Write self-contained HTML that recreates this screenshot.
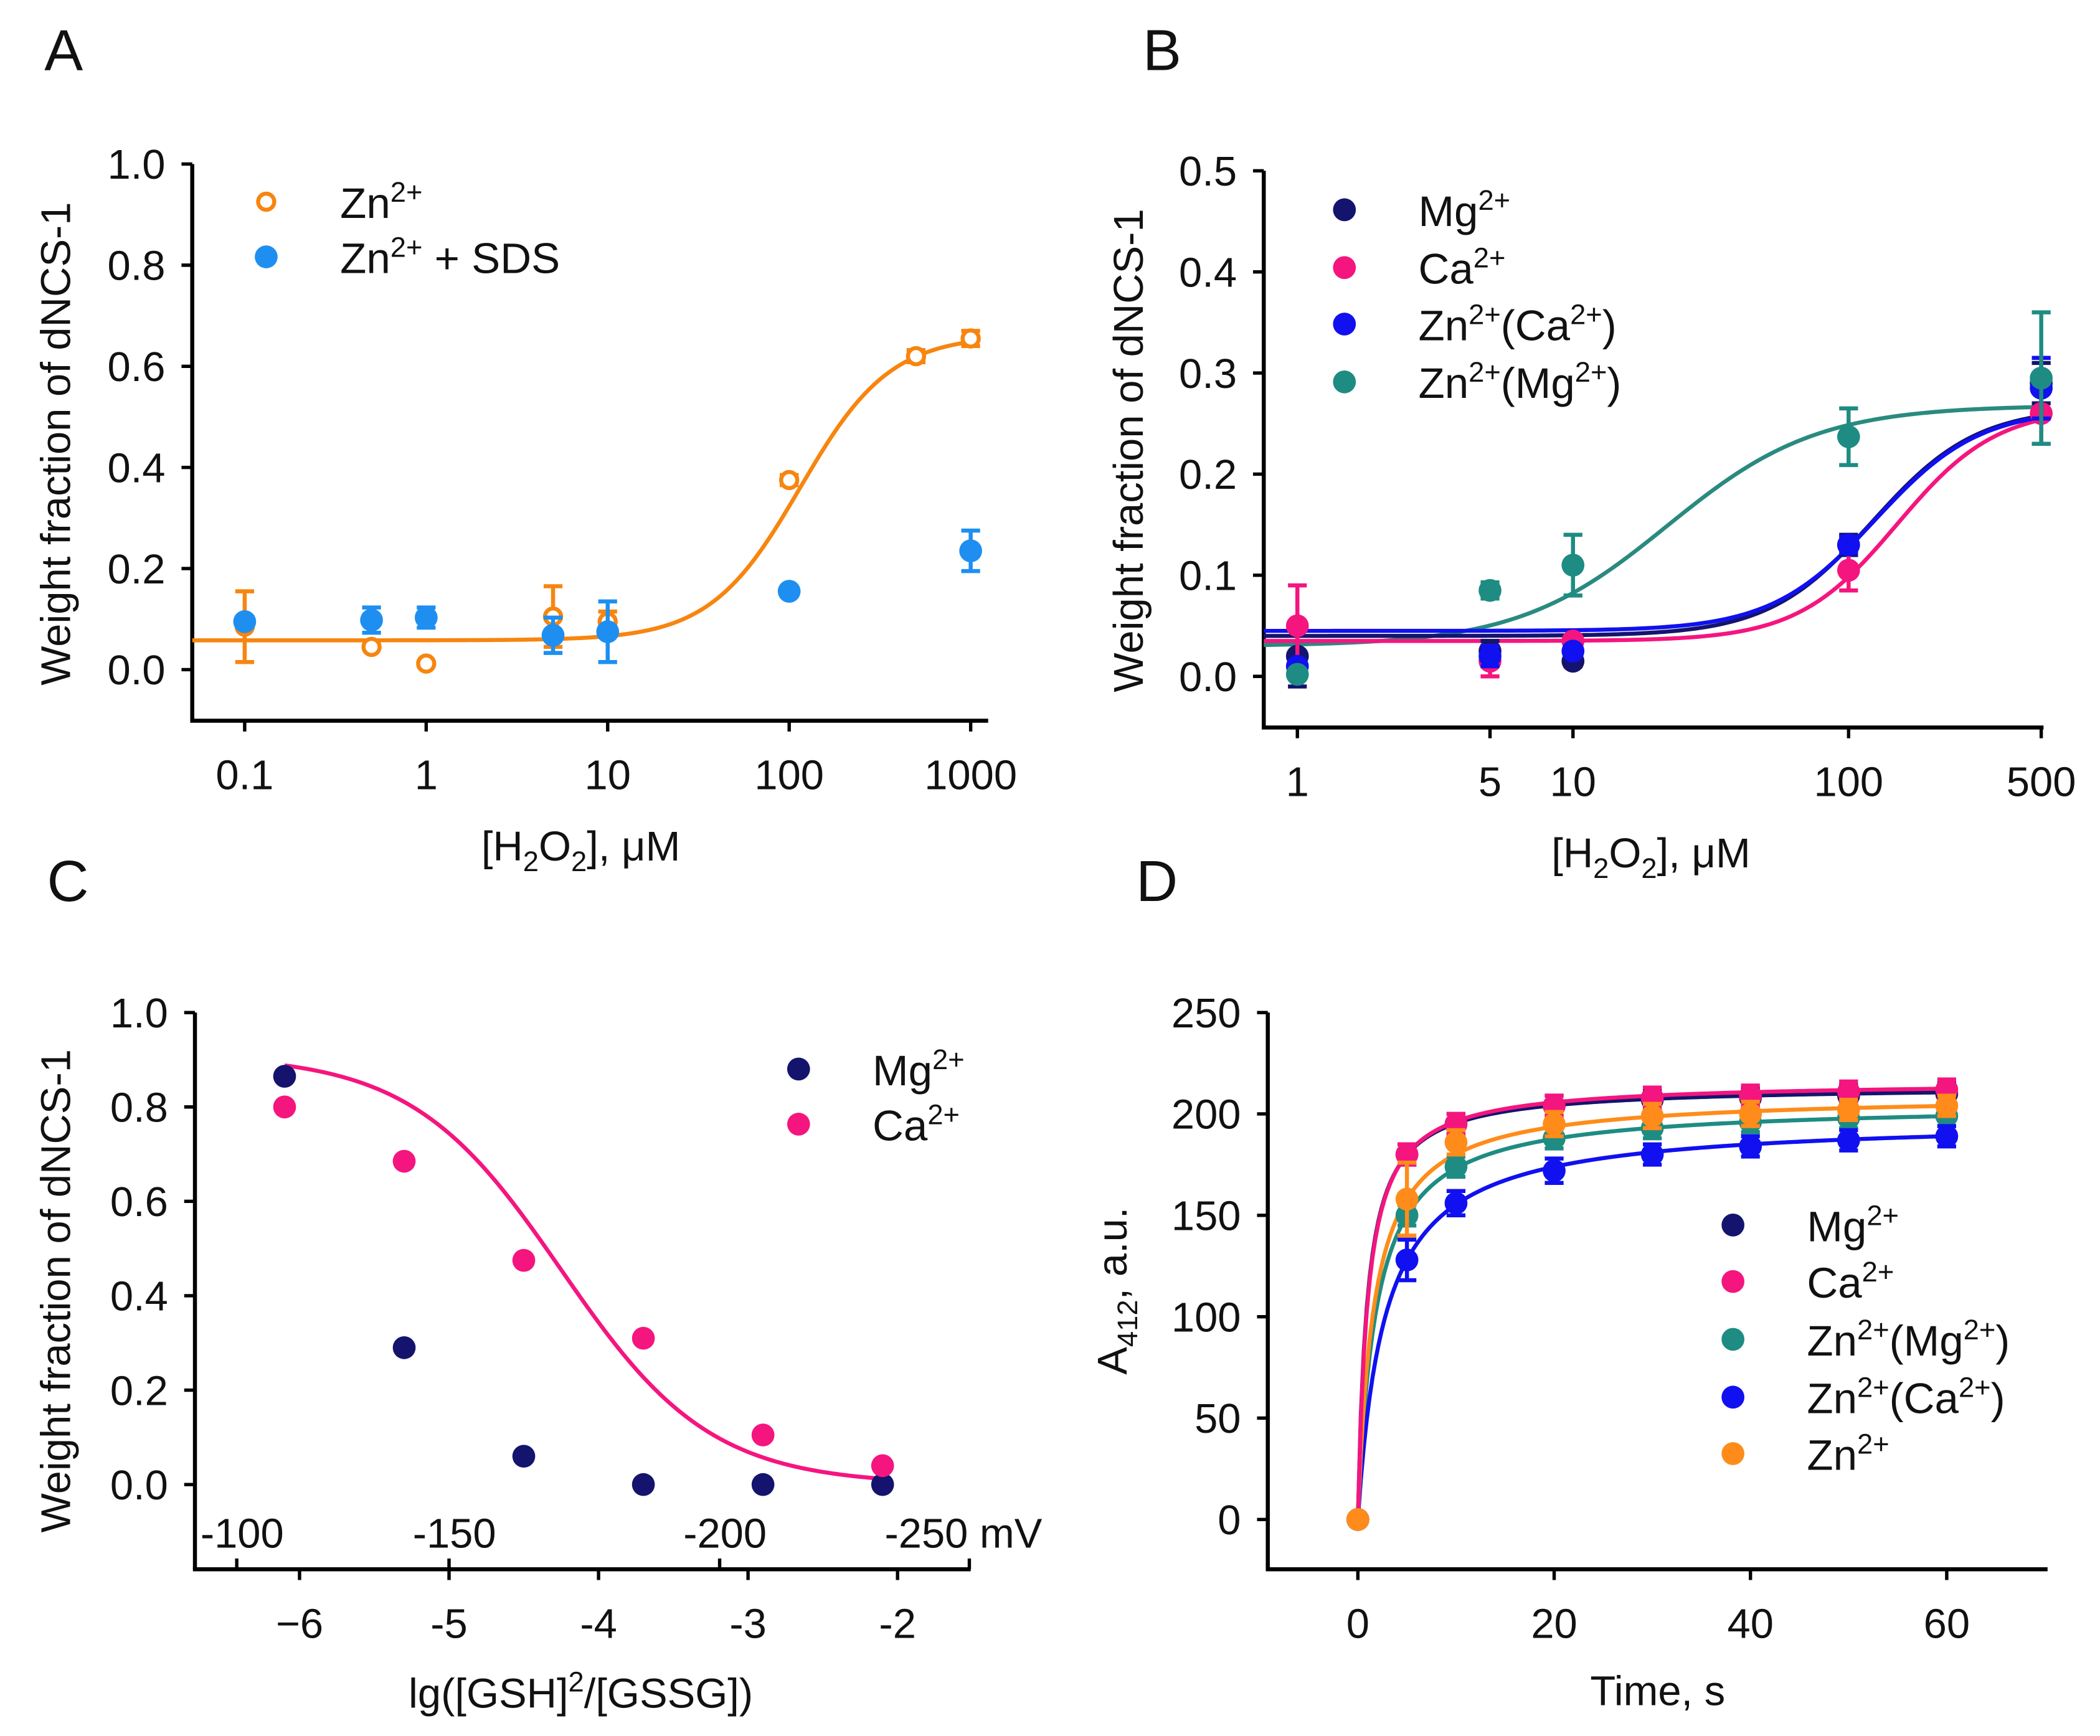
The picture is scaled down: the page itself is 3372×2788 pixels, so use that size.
<!DOCTYPE html>
<html><head><meta charset="utf-8"><style>
html,body{margin:0;padding:0;background:#fff}
svg{display:block}
text{font-family:"Liberation Sans",Arial,sans-serif;fill:#111}
</style></head><body>
<svg id="fig" width="3372" height="2788" viewBox="0 0 1562 1291" preserveAspectRatio="none" xmlns="http://www.w3.org/2000/svg">
<rect width="1562" height="1291" fill="#fff"/>
<text x="33" y="52" font-size="43">A</text>
<text x="850" y="52" font-size="43">B</text>
<text x="35" y="670" font-size="43">C</text>
<text x="845" y="670" font-size="43">D</text>
<g id="gA"></g>
<g id="gB"></g>
<g id="gC"></g>
<g id="gD"></g>
</svg>
<script>
// ---- Panel A data ----
const aX = [0.1, 0.5, 1, 5, 10, 100, 500, 1000];
const aZn = [0.085, 0.045, 0.012, 0.105, 0.095, 0.375, 0.62, 0.655];
const aZnErr = [0.07, 0, 0, 0.06, 0.02, 0.01, 0.012, 0.015];
const aXs = [0.1, 0.5, 1, 5, 10, 100, 1000];
const aSds = [0.095, 0.098, 0.103, 0.068, 0.075, 0.155, 0.235];
const aSdsErr = [0.01, 0.025, 0.02, 0.035, 0.06, 0.005, 0.04];
const aYTicks = [0, 0.2, 0.4, 0.6, 0.8, 1.0];
const aXTicks = [0.1, 1, 10, 100, 1000];
// ---- Panel B data ----
const bX = [1, 5, 10, 100, 500];
const bMg = [0.02, 0.025, 0.015, 0.13, 0.29];
const bMgErr = [0.03, 0.01, 0.005, 0.01, 0.02];
const bCa = [0.05, 0.015, 0.035, 0.105, 0.26];
const bCaErr = [0.04, 0.015, 0.005, 0.02, 0.03];
const bZnCa = [0.01, 0.02, 0.025, 0.13, 0.285];
const bZnCaErr = [0.005, 0.01, 0.005, 0.008, 0.03];
const bZnMg = [0.002, 0.085, 0.11, 0.237, 0.295];
const bZnMgErr = [0.003, 0.008, 0.03, 0.028, 0.065];
const bYTicks = [0, 0.1, 0.2, 0.3, 0.4, 0.5];
const bXTicks = [1, 5, 10, 100, 500];
// ---- Panel C data ----
const cX = [-6.1, -5.3, -4.5, -3.7, -2.9, -2.1];
const cMg = [0.865, 0.29, 0.06, 0, 0, 0];
const cCa = [0.80, 0.685, 0.475, 0.31, 0.105, 0.04];
const cYTicks = [0, 0.2, 0.4, 0.6, 0.8, 1.0];
const cXTicks = [-6, -5, -4, -3, -2];
const cXTickLabels = ["\u22126", "-5", "-4", "-3", "-2"];
const cMvPos = [-6.42, -5.0, -3.19];
const cMvLabels = ["-100", "-150", "-200"];
// ---- Panel D data ----
const dT = [0, 5, 10, 20, 30, 40, 50, 60];
const dMg = [0, 180, 195, 204, 207, 208, 209, 210];
const dCa = [0, 180, 195, 204, 208, 209, 211, 212];
const dZnMg = [0, 150, 174, 188, 193, 196, 198, 199];
const dZnCa = [0, 128, 156, 172, 180, 184, 187, 189];
const dZn = [0, 158, 186, 195, 199, 200, 202, 204];
const dErr = [0, 5, 5, 5, 5, 5, 5, 5];
const dZnErr = [0, 18, 6, 6, 6, 6, 5, 5];
const dZnCaErr = [0, 10, 6, 6, 5, 5, 5, 5];
const dYTicks = [0, 50, 100, 150, 200, 250];
const dXTicks = [0, 20, 40, 60];

const NS = "http://www.w3.org/2000/svg";
function mk(parent, tag, attrs) {
  const e = document.createElementNS(NS, tag);
  for (const k in attrs) e.setAttribute(k, attrs[k]);
  parent.appendChild(e);
  return e;
}
function txt(parent, x, y, s, size, anchor) {
  const t = mk(parent, "text", {x: x, y: y, "font-size": size, "text-anchor": anchor || "start"});
  t.innerHTML = s;
  return t;
}
const SUP = (s) => '<tspan baseline-shift="12" font-size="21">' + s + '</tspan>';
const SUB = (s) => '<tspan baseline-shift="-8" font-size="21">' + s + '</tspan>';

function axes(g, x0, x1, y0, y1) {
  const l1 = mk(g, "line", {x1: x0, y1: y0, x2: x0, y2: y1, stroke: "#000", "stroke-width": 3});
  
  
  const l2 = mk(g, "line", {x1: x0 - 1.5, y1: y1, x2: x1, y2: y1, stroke: "#000", "stroke-width": 3});
  
  
}
function yTicks(g, x0, ticks, sy, fmt) {
  ticks.forEach(v => {
    mk(g, "line", {x1: x0 - 8, y1: sy(v), x2: x0, y2: sy(v), stroke: "#000", "stroke-width": 2.5});
    const t = txt(g, x0 - 20, sy(v) + 11, fmt(v), 31, "end");
    
    
  });
}
function xTicks(g, y1, ticks, labels, sx, ly) {
  ticks.forEach((v, i) => {
    mk(g, "line", {x1: sx(v), y1: y1, x2: sx(v), y2: y1 + 8, stroke: "#000", "stroke-width": 2.5});
    const t = txt(g, sx(v), ly, labels[i], 31, "middle");
    
    
  });
}
function series(g, xs, ys, errs, sx, sy, color, name, open) {
  xs.forEach((x, i) => {
    const cx = sx(x), cy = sy(ys[i]);
    if (errs && errs[i] > 0) {
      const e1 = sy(ys[i] + errs[i]), e2 = sy(ys[i] - errs[i]);
      mk(g, "line", {x1: cx, y1: e1, x2: cx, y2: e2, stroke: color, "stroke-width": 3});
      mk(g, "line", {x1: cx - 7, y1: e1, x2: cx + 7, y2: e1, stroke: color, "stroke-width": 3});
      mk(g, "line", {x1: cx - 7, y1: e2, x2: cx + 7, y2: e2, stroke: color, "stroke-width": 3});
    }
    const c = mk(g, "circle", open ? {cx: cx, cy: cy, r: 6, fill: "#fff", stroke: color, "stroke-width": 3} : {cx: cx, cy: cy, r: 8.5, fill: color});
    
    
  });
}
function curve(g, f, xa, xb, sx, sy, color, name, log) {
  let d = "";
  const N = 200;
  for (let i = 0; i <= N; i++) {
    const x = log ? Math.pow(10, Math.log10(xa) + (Math.log10(xb) - Math.log10(xa)) * i / N) : xa + (xb - xa) * i / N;
    d += (i ? "L" : "M") + sx(x).toFixed(2) + "," + sy(f(x)).toFixed(2);
  }
  const p = mk(g, "path", {d: d, fill: "none", stroke: color, "stroke-width": 3});
  
  
}
function legend(g, x, y, color, label, open, name) {
  const c = mk(g, "circle", open ? {cx: x, cy: y, r: 6, fill: "#fff", stroke: color, "stroke-width": 3} : {cx: x, cy: y, r: 8.5, fill: color});
  
  
  const t = txt(g, x + 55, y + 12, label, 32);
  
  
}
function yTitle(g, x, y, html) {
  const t = mk(g, "text", {x: 0, y: 0, "font-size": 31, "text-anchor": "middle", transform: "translate(" + x + "," + y + ") rotate(-90)"});
  t.innerHTML = html;
  
  
}
function xTitle(g, x, y, html) {
  const t = txt(g, x, y, html, 31, "middle");
  
  
}
const f1 = v => v.toFixed(1);
const hill = (b, t, ec, n) => x => b + (t - b) / (1 + Math.pow(ec / x, n));

// ---- Panel A ----
(function () {
  const g = document.getElementById("gA");
  const sx = v => 317 + 135 * Math.log10(v);
  const sy = v => 498 - 376 * v;
  axes(g, 143, 735, 122, 536);
  yTicks(g, 143, aYTicks, sy, f1);
  xTicks(g, 536, aXTicks, ["0.1", "1", "10", "100", "1000"], sx, 587);
  yTitle(g, 52, 330, "Weight fraction of dNCS-1");
  xTitle(g, 432, 640, "[H" + SUB("2") + "O" + SUB("2") + "], \u03bcM");
  curve(g, hill(0.058, 0.662, 115, 1.75), Math.pow(10, (143 - 317) / 135), 1000, sx, sy, "#F7850F", "zn", true);
  series(g, aX, aZn, aZnErr, sx, sy, "#F7850F", "zn", true);
  series(g, aXs, aSds, aSdsErr, sx, sy, "#1E8FF0", "zn-sds", false);
  legend(g, 198, 150, "#F7850F", "Zn" + SUP("2+"), true, "zn");
  legend(g, 198, 191, "#1E8FF0", "Zn" + SUP("2+") + " + SDS", false, "zn-sds");
})();

// ---- Panel B ----
(function () {
  const g = document.getElementById("gB");
  const sx = v => 965 + 205 * Math.log10(v);
  const sy = v => 503 - 752 * v;
  axes(g, 940, 1520, 127, 541);
  yTicks(g, 940, bYTicks, sy, f1);
  xTicks(g, 541, bXTicks, ["1", "5", "10", "100", "500"], sx, 592);
  yTitle(g, 850, 335, "Weight fraction of dNCS-1");
  xTitle(g, 1228, 645, "[H" + SUB("2") + "O" + SUB("2") + "], \u03bcM");
  const xa = Math.pow(10, -25 / 205);
  curve(g, hill(0.03, 0.268, 22, 1.6), xa, 500, sx, sy, "#2A8A80", "zn-mg", true);
  curve(g, hill(0.035, 0.266, 150, 2.4), xa, 500, sx, sy, "#F5157F", "ca", true);
  curve(g, hill(0.04, 0.266, 122, 2.3), xa, 500, sx, sy, "#14146E", "mg", true);
  curve(g, hill(0.045, 0.265, 125, 2.3), xa, 500, sx, sy, "#1010F0", "zn-ca", true);
  series(g, bX, bMg, bMgErr, sx, sy, "#14146E", "mg", false);
  series(g, bX, bCa, bCaErr, sx, sy, "#F5157F", "ca", false);
  series(g, bX, bZnCa, bZnCaErr, sx, sy, "#1010F0", "zn-ca", false);
  series(g, bX, bZnMg, bZnMgErr, sx, sy, "#1E8C82", "zn-mg", false);
  legend(g, 1000, 156, "#14146E", "Mg" + SUP("2+"), false, "mg");
  legend(g, 1000, 199, "#F5157F", "Ca" + SUP("2+"), false, "ca");
  legend(g, 1000, 241, "#1010F0", "Zn" + SUP("2+") + "(Ca" + SUP("2+") + ")", false, "zn-ca");
  legend(g, 1000, 284, "#1E8C82", "Zn" + SUP("2+") + "(Mg" + SUP("2+") + ")", false, "zn-mg");
})();

// ---- Panel C ----
(function () {
  const g = document.getElementById("gC");
  const sx = v => 334 + 111.2 * (v + 5);
  const sy = v => 1104 - 351 * v;
  axes(g, 145, 722, 753, 1167);
  yTicks(g, 145, cYTicks, sy, f1);
  xTicks(g, 1167, cXTicks, cXTickLabels, sx, 1218);
  cMvPos.forEach((v, i) => {
    mk(g, "line", {x1: sx(v), y1: 1159, x2: sx(v), y2: 1167, stroke: "#000", "stroke-width": 2.5});
    const t = txt(g, sx(v) + 4, 1151, cMvLabels[i], 31, "middle");
    
    
  });
  mk(g, "line", {x1: 721, y1: 1159, x2: 721, y2: 1167, stroke: "#000", "stroke-width": 2.5});
  const t2 = txt(g, 658, 1151, "-250 mV", 31);
  
  
  yTitle(g, 52, 960, "Weight fraction of dNCS-1");
  xTitle(g, 432, 1270, "lg([GSH]" + SUP("2") + "/[GSSG])");
  curve(g, x => 0.91 / (1 + Math.exp(2.0 * (x + 4.25))), -6.1, -2.1, sx, sy, "#F5157F", "ca", false);
  series(g, cX, cMg, null, sx, sy, "#14146E", "mg", false);
  series(g, cX, cCa, null, sx, sy, "#F5157F", "ca", false);
  legend(g, 594, 795, "#14146E", "Mg" + SUP("2+"), false, "mg");
  legend(g, 594, 836, "#F5157F", "Ca" + SUP("2+"), false, "ca");
})();

// ---- Panel D ----
(function () {
  const g = document.getElementById("gD");
  const sx = v => 1010 + 7.3 * v;
  const sy = v => 1130 - 1.508 * v;
  axes(g, 943, 1523, 753, 1167);
  yTicks(g, 943, dYTicks, sy, v => String(v));
  xTicks(g, 1167, dXTicks, ["0", "20", "40", "60"], sx, 1218);
  yTitle(g, 838, 960, "A" + SUB("412") + ", a.u.");
  xTitle(g, 1233, 1268, "Time, s");
  const hyp = (Y, K) => t => Y * t / (K + t);
  curve(g, hyp(205, 1.84), 0, 60, sx, sy, "#1E8C82", "zn-mg", false);
  curve(g, hyp(197.6, 2.72), 0, 60, sx, sy, "#1010F0", "zn-ca", false);
  curve(g, hyp(209.5, 1.63), 0, 60, sx, sy, "#FF8C1A", "zn", false);
  curve(g, hyp(214, 0.95), 0, 60, sx, sy, "#14146E", "mg", false);
  curve(g, hyp(216, 1.0), 0, 60, sx, sy, "#F5157F", "ca", false);
  series(g, dT, dZnMg, dErr, sx, sy, "#1E8C82", "zn-mg", false);
  series(g, dT, dZnCa, dZnCaErr, sx, sy, "#1010F0", "zn-ca", false);
  series(g, dT, dMg, dErr, sx, sy, "#14146E", "mg", false);
  series(g, dT, dCa, dErr, sx, sy, "#F5157F", "ca", false);
  series(g, dT, dZn, dZnErr, sx, sy, "#FF8C1A", "zn", false);
  legend(g, 1289, 911, "#14146E", "Mg" + SUP("2+"), false, "mg");
  legend(g, 1289, 953, "#F5157F", "Ca" + SUP("2+"), false, "ca");
  legend(g, 1289, 996, "#1E8C82", "Zn" + SUP("2+") + "(Mg" + SUP("2+") + ")", false, "zn-mg");
  legend(g, 1289, 1039, "#1010F0", "Zn" + SUP("2+") + "(Ca" + SUP("2+") + ")", false, "zn-ca");
  legend(g, 1289, 1081, "#FF8C1A", "Zn" + SUP("2+"), false, "zn");
})();
</script>
</body></html>
